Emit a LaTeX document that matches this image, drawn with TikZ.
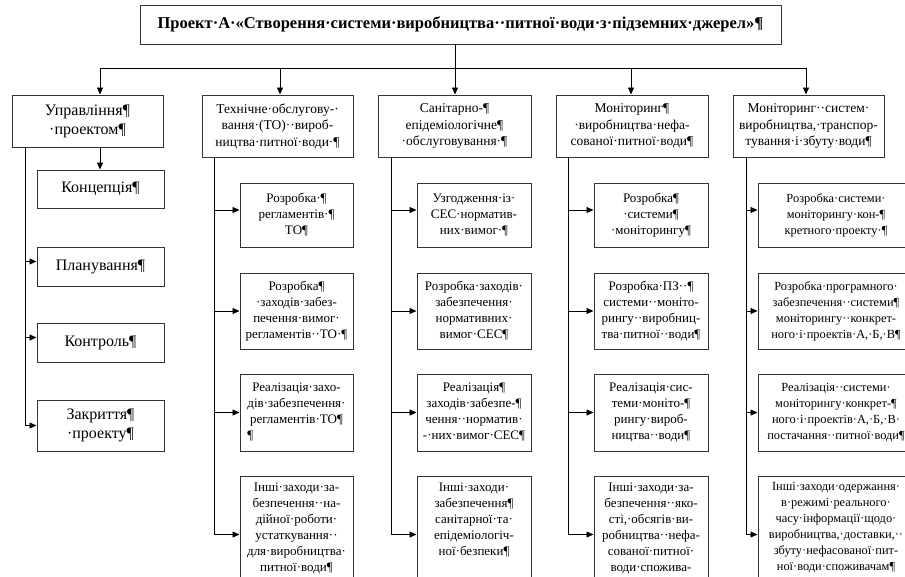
\documentclass[tikz,border=0pt]{standalone}
\usepackage{fontspec}
\setmainfont{Liberation Serif}
\usepackage{tikz}
\usetikzlibrary{arrows.meta}

% top aligned text for the boxes cut by the lower edge
\newcommand{\lowtext}[2]{\parbox[t][104pt][t]{#1}{\centering #2}}

\begin{document}
\begin{tikzpicture}[x=1pt, y=-1pt,
  box/.style={draw=black!80, line width=1pt, align=center, inner sep=1pt, font=\fontsize{13}{16}\selectfont},
  edgebox/.style={box, font=\fontsize{12.4}{16}\selectfont},
  headbox/.style={box, font=\fontsize{13.5}{16.5}\selectfont},
  bigbox/.style={box, font=\fontsize{16}{19}\selectfont},
  arr/.style={-{Triangle[length=7pt,width=6pt]}, line width=0.8pt}]
  \useasboundingbox (0,0) rectangle (905,576);
  \clip (0,0) rectangle (905,576);

  % Project
  \node[box, minimum width=641pt, minimum height=39pt, font=\bfseries\fontsize{16.5}{19}\selectfont] (title) at (460.5,24.5)
    {Проект·А·«Створення·системи·виробництва··питної·води·з·підземних·джерел»¶};

  % Work packages
  \node[bigbox, minimum width=151pt, minimum height=52pt] (upr) at (87.5,121) {Управління¶\\·проектом¶};
  \node[headbox, minimum width=151pt, minimum height=62pt] (to) at (277.5,126) {Технічне·обслугову-·\\вання·(ТО)··вироб-\\ництва·питної·води·¶};
  \node[headbox, minimum width=153pt, minimum height=62pt] (san) at (454.5,126) {Санітарно-¶\\епідеміологічне¶\\·обслуговування·¶};
  \node[headbox, minimum width=152pt, minimum height=62pt] (mon) at (632,126) {Моніторинг¶\\·виробництва·нефа-\\сованої·питної·води¶};
  \node[headbox, minimum width=151pt, minimum height=62pt] (mons) at (808.5,126) {Моніторинг··систем·\\виробництва,·транспор-\\тування·і·збуту·води¶};

  % Management
  \node[bigbox, minimum width=127pt, minimum height=38pt] (konts) at (100.5,189) {Концепція¶};
  \node[bigbox, minimum width=127pt, minimum height=39pt] (plan) at (100.5,266.5) {Планування¶};
  \node[bigbox, minimum width=127pt, minimum height=39pt] (kontr) at (100.5,342.5) {Контроль¶};
  \node[bigbox, minimum width=127pt, minimum height=51pt] (zakr) at (100.5,425.5) {Закриття¶\\·проекту¶};

  % Maintenance
  \node[box, minimum width=113pt, minimum height=64pt] (to1) at (296.5,215) {Розробка·¶\\регламентів·¶\\ТО¶};
  \node[box, minimum width=113pt, minimum height=76pt] (to2) at (296.5,311) {Розробка¶\\·заходів·забез-\\печення·вимог·\\регламентів··ТО·¶};
  \node[box, minimum width=113pt, minimum height=77pt] (to3) at (296.5,412.5) {Реалізація·захо-\\дів·забезпечення·\\регламентів·ТО¶\\¶\hfill\null};
  \node[box, anchor=north, inner sep=6pt] (to4) at (296.5,476) {\lowtext{101pt}{Інші·заходи·за-\\безпечення··на-\\дійної·роботи·\\устаткування··\\для·виробництва·\\питної·води¶}};

  % Sanitary service
  \node[box, minimum width=114pt, minimum height=64pt] (san1) at (474,215) {Узгодження·із·\\СЕС·норматив-\\них·вимог·¶};
  \node[box, minimum width=114pt, minimum height=76pt] (san2) at (474,311) {Розробка·заходів·\\забезпечення·\\нормативних·\\вимог·СЕС¶};
  \node[box, minimum width=114pt, minimum height=77pt] (san3) at (474,412.5) {Реалізація¶\\заходів·забезпе-¶\\чення··норматив·\\-·них·вимог·СЕС¶};
  \node[box, anchor=north, inner sep=6pt] (san4) at (474,476) {\lowtext{102pt}{Інші·заходи·\\забезпечення¶\\санітарної·та·\\епідеміологіч-\\ної·безпеки¶}};

  % Monitoring of production
  \node[box, minimum width=114pt, minimum height=64pt] (mon1) at (651,215) {Розробка¶\\·системи¶\\·моніторингу¶};
  \node[box, minimum width=114pt, minimum height=76pt] (mon2) at (651,311) {Розробка·ПЗ··¶\\системи··моніто-\\рингу··виробниц-\\тва·питної··води¶};
  \node[box, minimum width=114pt, minimum height=77pt] (mon3) at (651,412.5) {Реалізація·сис-\\теми·моніто-¶\\рингу·вироб-\\ництва··води¶};
  \node[box, anchor=north, inner sep=6pt] (mon4) at (651,476) {\lowtext{102pt}{Інші·заходи·за-\\безпечення··яко-\\сті,·обсягів·ви-\\робництва··нефа-\\сованої·питної·\\води·спожива-}};

  % Monitoring of supply
  \node[edgebox, minimum width=156pt, minimum height=64pt] (mons1) at (836,215) {Розробка·системи·\\моніторингу·кон-¶\\кретного·проекту·¶};
  \node[edgebox, minimum width=156pt, minimum height=76pt] (mons2) at (836,311) {Розробка·програмного·\\забезпечення··системи¶\\моніторингу··конкрет-\\ного·і·проектів·А,·Б,·В¶};
  \node[edgebox, minimum width=156pt, minimum height=77pt] (mons3) at (836,412.5) {Реалізація··системи·\\моніторингу·конкрет-¶\\ного·і·проектів·А,·Б,·В·\\постачання··питної·води¶};
  \node[edgebox, anchor=north, inner sep=6pt] (mons4) at (836,476) {\lowtext{144pt}{Інші·заходи·одержання·\\в·режимі·реального·\\часу·інформації·щодо·\\виробництва,·доставки,··\\збуту·нефасованої·пит-\\ної·води·споживачам¶}};

  % Bus under the project
  \coordinate (b1) at (100,68);
  \coordinate (b2) at (280,68);
  \coordinate (b3) at (455,68);
  \coordinate (b4) at (631,68);
  \coordinate (b5) at (806,68);
  \draw[line width=0.8pt] (title.south -| b3) -- (b3);
  \draw[line width=0.8pt] (b1) -- (b5);
  \foreach \n/\b in {upr/b1, to/b2, san/b3, mon/b4, mons/b5}
    \draw[arr] (\b) -- (\n.north -| \b);

  % Branch lines
  \coordinate (l1) at (25,0);
  \coordinate (l2) at (214,0);
  \coordinate (l3) at (391,0);
  \coordinate (l4) at (568,0);
  \coordinate (l5) at (746,0);
  \draw[arr] (upr.south -| b1) -- (konts.north -| b1);
  \draw[arr, line width=0.6pt] (upr.south -| l1) |- (zakr.west);
  \foreach \n in {plan, kontr}
    \draw[arr] ([yshift=5pt]\n.west -| l1) -- ([yshift=5pt]\n.west);
  \foreach \h/\l in {to/l2, san/l3, mon/l4, mons/l5} {
    \draw[arr, line width=0.6pt] (\h.south -| \l) |- (\h4.west);
    \draw[arr] ([yshift=5pt]\h1.west -| \l) -- ([yshift=5pt]\h1.west);
    \foreach \r in {2,3}
      \draw[arr] (\h\r.west -| \l) -- (\h\r.west);
  }
\end{tikzpicture}
\end{document}
